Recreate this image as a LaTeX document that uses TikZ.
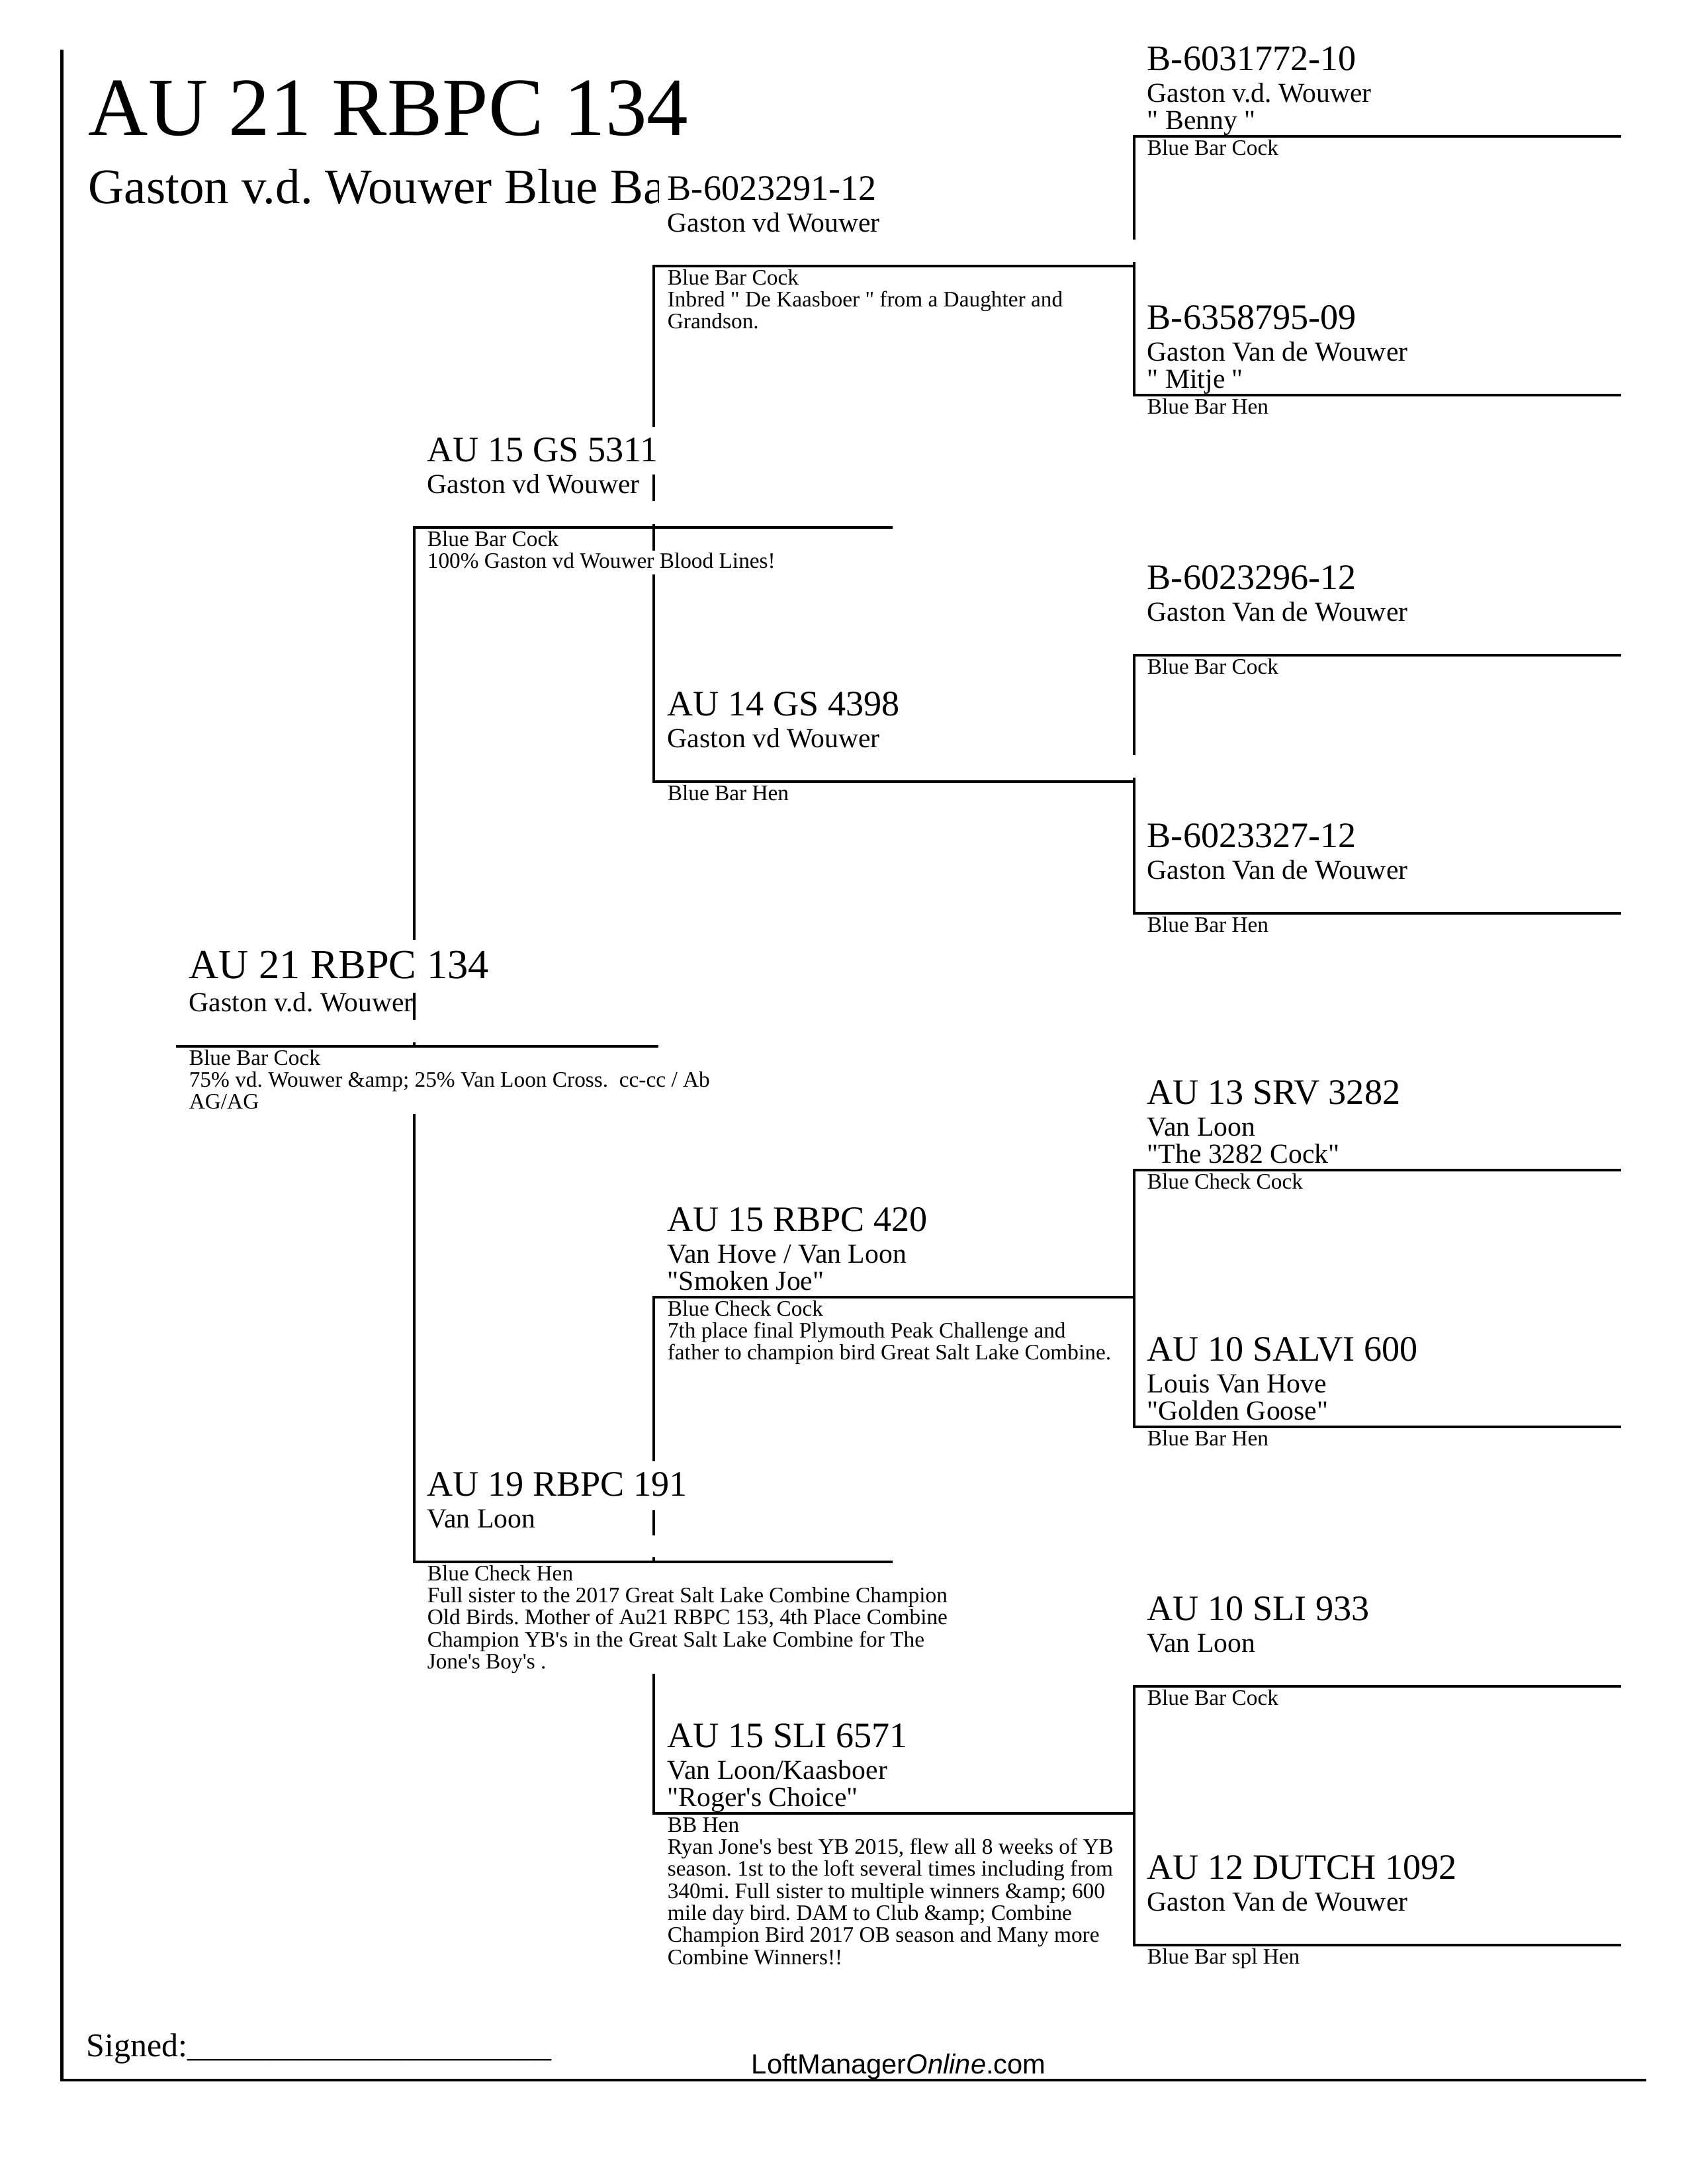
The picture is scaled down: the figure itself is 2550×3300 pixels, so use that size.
\documentclass[tikz,border=0pt]{standalone}
\usepackage{fontspec}
\newfontfamily\rs{Liberation Serif}
\newfontfamily\lsans{Liberation Sans}
\setlength\lineskiplimit{-50pt}
\tikzset{
  idtext/.style={anchor=base west, inner sep=0pt, font=\rs\fontsize{13bp}{15bp}\selectfont},
  idbig/.style={font=\rs\fontsize{15bp}{17bp}\selectfont},
  nametext/.style={anchor=base west, inner sep=0pt, font=\rs\fontsize{10bp}{9.85bp}\selectfont},
  infotext/.style={anchor=base west, inner sep=0pt, font=\rs\fontsize{8bp}{8bp}\selectfont},
  pedline/.style={line width=1bp},
}
% #1 prefix, #2 text x, #3 line y, #4 extra id style, #5 id, #6 name lines, #7 info lines
\newcommand\pbird[7]{%
  \node[idtext,#4] (#1id) at (#2,#3-100) {#5};
  \node[nametext] (#1nm) at (#2,#3-52) {\vtop{#6}};
  \node[infotext] (#1in) at (#2,#3+28) {\vtop{#7}};
}
\begin{document}
\frenchspacing
\begin{tikzpicture}[x=0.24bp,y=-0.24bp]
\useasboundingbox (0,0) rectangle (2550,3300);
\fill[white] (0,0) rectangle (2550,3300);

% border
\coordinate (bTL) at (93.5,75);
\coordinate (bBL) at (93.5,3143);
\coordinate (bBR) at (2488,3143);
\draw[pedline] (bTL) -- (bBL) -- (bBR);

% title
\node[anchor=base west, inner sep=0pt, font=\rs\fontsize{30bp}{36bp}\selectfont] (title) at (133,204.5) {AU 21 RBPC 134};
\node[anchor=base west, inner sep=0pt, font=\rs\fontsize{18bp}{22bp}\selectfont] (subtitle) at (133,307) {Gaston v.d. Wouwer Blue Bar};

% ---------- line coordinates ----------
\coordinate (r0a) at (266,1581);  \coordinate (r0b) at (995,1581);
\coordinate (sa) at (626,797);    \coordinate (sb) at (1349,797);
\coordinate (da) at (626,2360);   \coordinate (db) at (1349,2360);
\coordinate (ssa) at (988,402);   \coordinate (ssb) at (1716,402);
\coordinate (sda) at (988,1181);  \coordinate (sdb) at (1716,1181);
\coordinate (dsa) at (988,1960);  \coordinate (dsb) at (1716,1960);
\coordinate (dda) at (988,2740);  \coordinate (ddb) at (1716,2740);
\coordinate (sssa) at (1714,206);  \coordinate (sssb) at (2450,206);
\coordinate (ssda) at (1714,597);  \coordinate (ssdb) at (2450,597);
\coordinate (sdsa) at (1714,990);  \coordinate (sdsb) at (2450,990);
\coordinate (sdda) at (1714,1380); \coordinate (sddb) at (2450,1380);
\coordinate (dssa) at (1714,1768); \coordinate (dssb) at (2450,1768);
\coordinate (dsda) at (1714,2156); \coordinate (dsdb) at (2450,2156);
\coordinate (ddsa) at (1714,2548); \coordinate (ddsb) at (2450,2548);
\coordinate (ddda) at (1714,2939); \coordinate (dddb) at (2450,2939);

% generation 0
\draw[pedline] (r0a) -- (r0b);
% generation 1 brackets
\coordinate (g1p1) at (626,1500);
\coordinate (g1p2) at (626,1575);
\coordinate (g1p3) at (626,1683);
\draw[pedline] (sb) -- (sa) -- ++(0,623);
\draw[pedline] (g1p1) -- ++(0,41);
\draw[pedline] (g1p2) -- ++(0,8);
\draw[pedline] (g1p3) -- (da) -- (db);
% generation 2 brackets
\coordinate (g2p1) at (988,717);
\coordinate (g2p2) at (988,792);
\coordinate (g2p3) at (988,868);
\draw[pedline] (ssb) -- (ssa) -- ++(0,243);
\draw[pedline] (g2p1) -- ++(0,40);
\draw[pedline] (g2p2) -- ++(0,40);
\draw[pedline] (g2p3) -- (sda) -- (sdb);
\coordinate (g2q1) at (988,2282);
\coordinate (g2q2) at (988,2353);
\coordinate (g2q3) at (988,2529);
\draw[pedline] (dsb) -- (dsa) -- ++(0,248);
\draw[pedline] (g2q1) -- ++(0,38);
\draw[pedline] (g2q2) -- ++(0,9);
\draw[pedline] (g2q3) -- (dda) -- (ddb);
% generation 3 brackets
\coordinate (g3p1) at (1714,396);
\coordinate (g3p2) at (1714,1175);
\draw[pedline] (sssb) -- (sssa) -- ++(0,156);
\draw[pedline] (g3p1) -- (ssda) -- (ssdb);
\draw[pedline] (sdsb) -- (sdsa) -- ++(0,151);
\draw[pedline] (g3p2) -- (sdda) -- (sddb);
\draw[pedline] (dssb) -- (dssa) -- (dsda) -- (dsdb);
\draw[pedline] (ddsb) -- (ddsa) -- (ddda) -- (dddb);

% ---------- texts ----------
% generation 0
\node[idtext,idbig] (r0id) at (285,1478) {AU 21 RBPC 134};
\node[nametext] (r0nm) at (285,1528) {\vtop{\hbox{Gaston v.d. Wouwer}}};
\node[infotext] (r0in) at (285,1609) {\vtop{\hbox{Blue Bar Cock}\hbox{75\% vd. Wouwer \&amp; 25\% Van Loon Cross.\ \ cc-cc / Ab}\hbox{AG/AG}}};

% generation 1
\pbird{s}{645}{797}{}{AU 15 GS 5311}{\hbox{Gaston vd Wouwer}}{\hbox{Blue Bar Cock}\hbox{100\% Gaston vd Wouwer Blood Lines!}}
\pbird{d}{645}{2360}{}{AU 19 RBPC 191}{\hbox{Van Loon}}{\hbox{Blue Check Hen}\hbox{Full sister to the 2017 Great Salt Lake Combine Champion}\hbox{Old Birds. Mother of Au21 RBPC 153, 4th Place Combine}\hbox{Champion YB's in the Great Salt Lake Combine for The}\hbox{Jone's Boy's .}}

% generation 2
\pbird{ss}{1008}{402}{fill=white,inner xsep=3bp,inner ysep=4bp,xshift=-3bp}{B-6023291-12}{\hbox{Gaston vd Wouwer}}{\hbox{Blue Bar Cock}\hbox{Inbred " De Kaasboer " from a Daughter and}\hbox{Grandson.}}
\pbird{sd}{1008}{1181}{}{AU 14 GS 4398}{\hbox{Gaston vd Wouwer}}{\hbox{Blue Bar Hen}}
\pbird{ds}{1008}{1960}{}{AU 15 RBPC 420}{\hbox{Van Hove / Van Loon}\hbox{"Smoken Joe"}}{\hbox{Blue Check Cock}\hbox{7th place final Plymouth Peak Challenge and}\hbox{father to champion bird Great Salt Lake Combine.}}
\pbird{dd}{1008}{2740}{}{AU 15 SLI 6571}{\hbox{Van Loon/Kaasboer}\hbox{"Roger's Choice"}}{\hbox{BB Hen}\hbox{Ryan Jone's best YB 2015, flew all 8 weeks of YB}\hbox{season. 1st to the loft several times including from}\hbox{340mi. Full sister to multiple winners \&amp; 600}\hbox{mile day bird. DAM to Club \&amp; Combine}\hbox{Champion Bird 2017 OB season and Many more}\hbox{Combine Winners!!}}

% generation 3
\pbird{sss}{1733}{206}{}{B-6031772-10}{\hbox{Gaston v.d. Wouwer}\hbox{" Benny "}}{\hbox{Blue Bar Cock}}
\pbird{ssd}{1733}{597}{}{B-6358795-09}{\hbox{Gaston Van de Wouwer}\hbox{" Mitje "}}{\hbox{Blue Bar Hen}}
\pbird{sds}{1733}{990}{}{B-6023296-12}{\hbox{Gaston Van de Wouwer}}{\hbox{Blue Bar Cock}}
\pbird{sdd}{1733}{1380}{}{B-6023327-12}{\hbox{Gaston Van de Wouwer}}{\hbox{Blue Bar Hen}}
\pbird{dss}{1733}{1768}{}{AU 13 SRV 3282}{\hbox{Van Loon}\hbox{"The 3282 Cock"}}{\hbox{Blue Check Cock}}
\pbird{dsd}{1733}{2156}{}{AU 10 SALVI 600}{\hbox{Louis Van Hove}\hbox{"Golden Goose"}}{\hbox{Blue Bar Hen}}
\pbird{dds}{1733}{2548}{}{AU 10 SLI 933}{\hbox{Van Loon}}{\hbox{Blue Bar Cock}}
\pbird{ddd}{1733}{2939}{}{AU 12 DUTCH 1092}{\hbox{Gaston Van de Wouwer}}{\hbox{Blue Bar spl Hen}}

% footer
\node[anchor=base west, inner sep=0pt, font=\rs\fontsize{12bp}{14bp}\selectfont] (signed) at (130,3107) {Signed:\_\_\_\_\_\_\_\_\_\_\_\_\_\_\_\_\_\_\_\_\_\_};
\node[anchor=base west, inner sep=0pt, font=\lsans\fontsize{10bp}{12bp}\selectfont] (web) at (1135,3133) {LoftManager\textit{Online}.com};
\end{tikzpicture}
\end{document}
